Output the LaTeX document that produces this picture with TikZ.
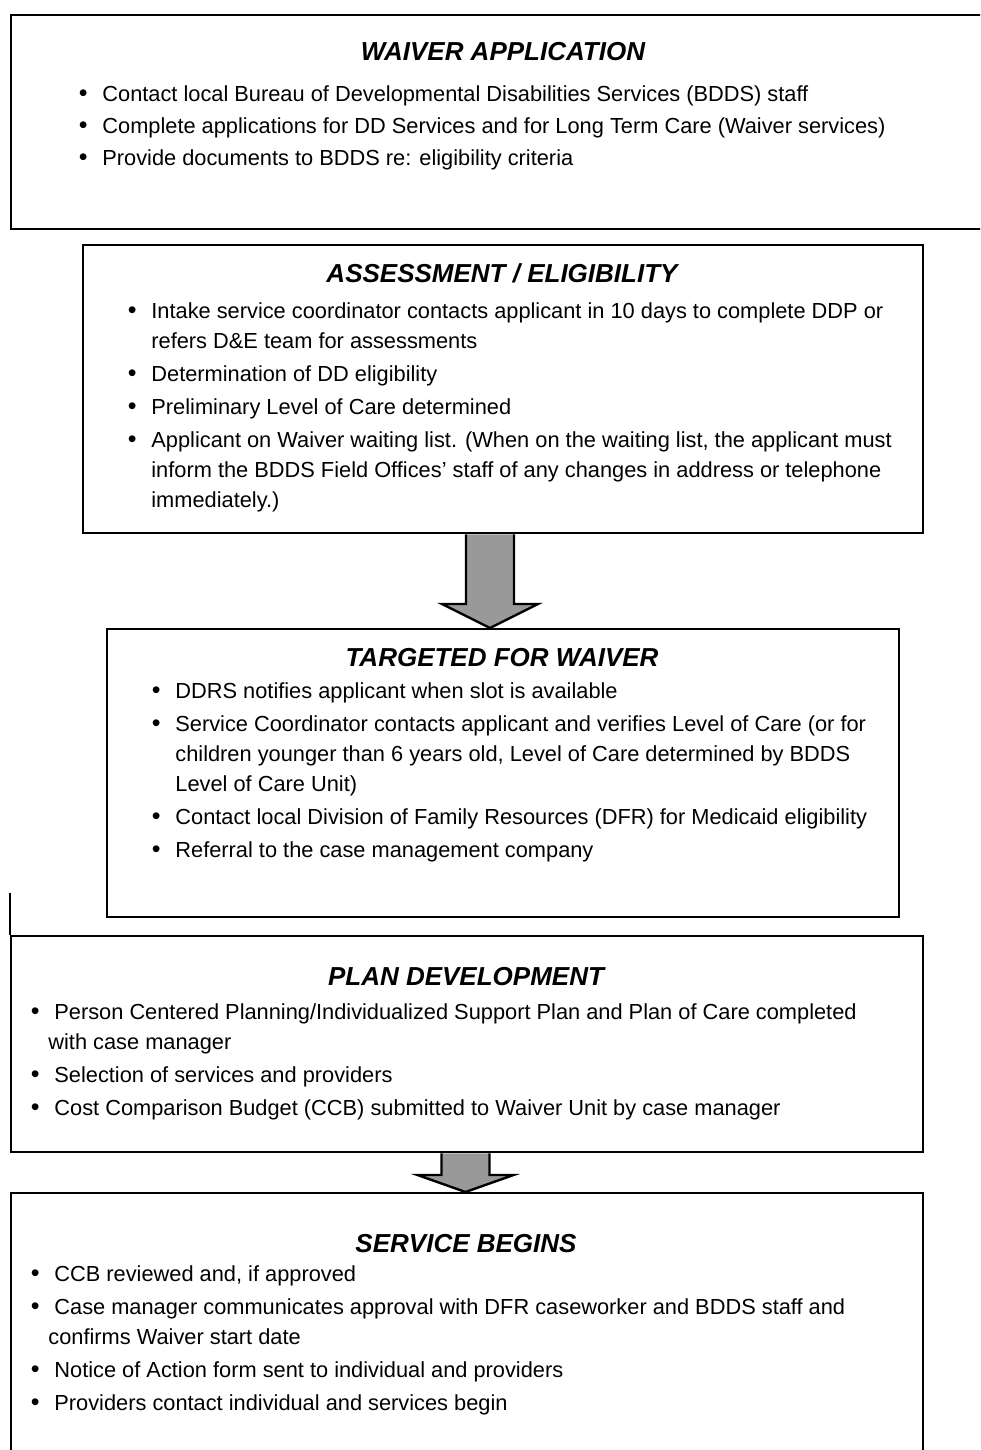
\documentclass[tikz,border=0pt]{standalone}
\usepackage{fontspec}
\setmainfont{Liberation Sans}
\usetikzlibrary{calc}

\definecolor{arrowgray}{HTML}{999999}
\newcommand{\bodyfont}{\fontsize{10.9pt}{15pt}\selectfont}
\newcommand{\headfont}{\fontsize{13pt}{15pt}\selectfont\bfseries\itshape}
\newcommand{\bul}{\llap{\raisebox{-0.3pt}{\fontsize{12.5pt}{15pt}\selectfont\textbullet}\hspace{7.4pt}}}
% block arrow: x coordinate, from node, to node, head length
\newcommand{\flowarrow}[4]{%
  \draw[arrow] let \p1=(#1 |- #2.south), \p2=(#1 |- #3.north) in
    (\x1-12pt,\y1) -- (\x1-12pt,\y2+#4) -- (\x1-24pt,\y2+#4) -- (\x1,\y2)
    -- (\x1+24pt,\y2+#4) -- (\x1+12pt,\y2+#4) -- (\x1+12pt,\y1);}

\begin{document}
\begin{tikzpicture}[x=0.5pt, y=-0.5pt,
 box/.style={draw, line width=1.2pt, rectangle, inner sep=0pt, anchor=north west},
 head/.style={font=\headfont, anchor=base, inner sep=0pt},
 list/.style={font=\bodyfont, align=left, anchor=north west, inner sep=0pt},
 arrow/.style={line width=1.2pt, draw=black, fill=arrowgray, line join=miter}
]
\useasboundingbox (0,0) rectangle (980,1450);
\clip (0,0) rectangle (980,1450);

% Waiver application
\node[box, minimum width=495pt, minimum height=107pt] (app) at (10,14) {};
\node[head] (app-head) at (503,61) {WAIVER APPLICATION};
\node[list] (app-list) at (102,85) {
\bul Contact local Bureau of Developmental Disabilities Services (BDDS) staff\\[1pt]
\bul Complete applications for DD Services and for Long Term Care (Waiver services)\\[1pt]
\bul Provide documents to BDDS re: eligibility criteria
};

% Assessment / eligibility
\node[box, minimum width=420pt, minimum height=144pt] (assess) at (82,244) {};
\node[head] (assess-head) at (502,282) {ASSESSMENT / ELIGIBILITY};
\node[list] (assess-list) at (151,302) {
\bul Intake service coordinator contacts applicant in 10 days to complete DDP or\\
refers D\&E team for assessments\\[1.5pt]
\bul Determination of DD eligibility\\[1.5pt]
\bul Preliminary Level of Care determined\\[1.5pt]
\bul Applicant on Waiver waiting list. (When on the waiting list, the applicant must\\
inform the BDDS Field Offices' staff of any changes in address or telephone\\
immediately.)
};

% Targeted for waiver
\node[box, minimum width=396pt, minimum height=144pt] (target) at (106,628) {};
\node[head] (target-head) at (502,666) {TARGETED FOR WAIVER};
\node[list] (target-list) at (175,682) {
\bul DDRS notifies applicant when slot is available\\[1.5pt]
\bul Service Coordinator contacts applicant and verifies Level of Care (or for\\
children younger than 6 years old, Level of Care determined by BDDS\\
Level of Care Unit)\\[1.5pt]
\bul Contact local Division of Family Resources (DFR) for Medicaid eligibility\\[1.5pt]
\bul Referral to the case management company
};

% Plan development
\node[box, minimum width=456pt, minimum height=108pt] (plan) at (10,935) {};
\draw[line width=1.2pt] (plan.north west) -- ++(0,-42);
\node[head] (plan-head) at (466,985) {PLAN DEVELOPMENT};
\node[list] (plan-list) at (54,1003) {
\bul Person Centered Planning/Individualized Support Plan and Plan of Care completed\\
\hspace*{-3pt}with case manager\\[1.5pt]
\bul Selection of services and providers\\[1.5pt]
\bul Cost Comparison Budget (CCB) submitted to Waiver Unit by case manager
};

% Service begins
\node[box, minimum width=456pt, minimum height=150pt] (service) at (10,1192) {};
\node[head] (service-head) at (466,1252) {SERVICE BEGINS};
\node[list] (service-list) at (54,1265) {
\bul CCB reviewed and, if approved\\[1.5pt]
\bul Case manager communicates approval with DFR caseworker and BDDS staff and\\
\hspace*{-3pt}confirms Waiver start date\\[1.5pt]
\bul Notice of Action form sent to individual and providers\\[1.5pt]
\bul Providers contact individual and services begin
};

% Arrows
\coordinate (arr1) at (490,0);
\coordinate (arr2) at (465.5,0);
\flowarrow{arr1}{assess}{target}{12pt}
\flowarrow{arr2}{plan}{service}{8.5pt}

\end{tikzpicture}
\end{document}
